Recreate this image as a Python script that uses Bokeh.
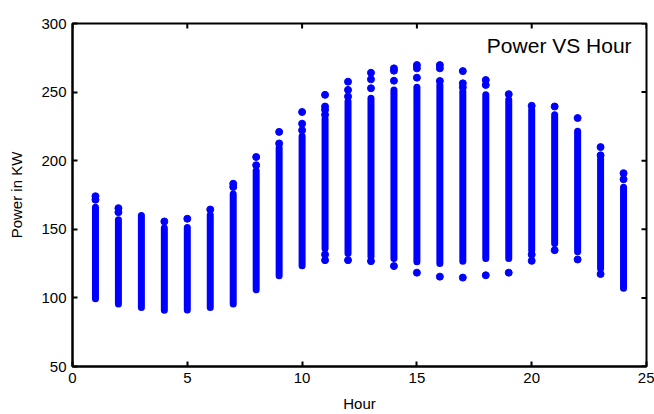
from bokeh.plotting import figure
from bokeh.models import FixedTicker, Label, Range1d, ColumnDataSource
from bokeh.embed import file_html
from bokeh.resources import INLINE

# Hours of day
hours = list(range(1, 25))
# dense band of readings per hour (low/high, kW)
dense_low = [99.4, 95.5, 93.0, 91.0, 91.2, 93.0, 95.5, 106.0, 116.2, 123.5, 136.0, 132.4,
             130.0, 128.8, 126.4, 125.1, 126.8, 128.8, 128.8, 134.8, 139.6, 133.6, 121.5, 107.0]
dense_high = [166.0, 157.0, 160.0, 151.0, 151.4, 160.5, 175.7, 192.6, 209.5, 217.9, 230.4, 243.1,
              245.6, 251.6, 253.5, 255.2, 250.4, 248.0, 244.4, 237.1, 233.5, 221.5, 201.0, 180.6]
# isolated readings outside the dense band
outlier_hours = [1, 1, 2, 2, 4, 5, 6, 7, 7, 8, 8, 9, 9, 10, 10, 10,
                 11, 11, 11, 11, 11, 11, 12, 12, 12, 12, 13, 13, 13, 13,
                 14, 14, 14, 14, 15, 15, 15, 15, 16, 16, 16, 16, 17, 17, 17, 17,
                 18, 18, 18, 19, 19, 20, 20, 20, 21, 21, 22, 22, 23, 23, 23, 24, 24]
outlier_values = [174.1, 171.6, 165.4, 162.5, 155.7, 157.7, 164.4, 183.2, 180.8, 202.7, 196.7,
                  221.0, 212.6, 235.5, 227.0, 222.2,
                  248.0, 239.5, 237.1, 233.5, 131.6, 127.5, 257.6, 251.6, 246.8, 127.5,
                  264.1, 259.3, 252.8, 126.8, 267.3, 265.6, 258.3, 123.2,
                  269.7, 267.3, 260.5, 118.4, 269.7, 267.3, 258.1, 115.5,
                  265.3, 256.4, 253.5, 114.8, 258.8, 255.2, 116.5, 248.5, 118.4,
                  240.0, 131.6, 127.0, 239.5, 134.8, 231.1, 128.0, 209.9, 203.9, 117.4,
                  190.9, 186.5]
x_ticks = [0, 5, 10, 15, 20, 25]
y_ticks = [50, 100, 150, 200, 250, 300]

FONT = "Liberation Sans"
BLUE = "#0000ff"
X0, X1, Y0, Y1 = 0, 25, 50, 300
W, H = 654, 414
ML, MR, MT, MB = 72, 8, 23, 45

p = figure(width=W, height=H, output_backend="svg", toolbar_location=None,
           x_range=Range1d(X0, X1), y_range=Range1d(Y0, Y1),
           min_border_left=ML, min_border_right=MR, min_border_top=MT, min_border_bottom=MB)
p.grid.visible = False
p.outline_line_color = "black"
p.outline_line_width = 2
p.background_fill_color = "white"
p.border_fill_color = "white"

band = ColumnDataSource(dict(x=hours, lo=dense_low, hi=dense_high))
p.segment(x0="x", y0="lo", x1="x", y1="hi", source=band, line_color=BLUE,
          line_width=7, line_cap="round")
pts = ColumnDataSource(dict(x=outlier_hours, y=outlier_values))
p.scatter(x="x", y="y", source=pts, size=7, fill_color=BLUE, line_color=BLUE)

for ax in (p.xaxis[0], p.yaxis[0]):
    ax.axis_line_color = "black"
    ax.axis_line_width = 2
    ax.major_tick_in = 5
    ax.major_tick_out = 0
    ax.major_tick_line_width = 2
    ax.minor_tick_line_color = None
    ax.major_label_text_font = FONT
    ax.major_label_text_font_size = "15px"
    ax.major_label_text_color = "black"
    ax.axis_label_text_font = FONT
    ax.axis_label_text_font_size = "15px"
    ax.axis_label_text_font_style = "normal"
    ax.axis_label_text_color = "black"

p.xaxis.ticker = FixedTicker(ticks=x_ticks)
p.yaxis.ticker = FixedTicker(ticks=y_ticks)
p.xaxis.axis_label = "Hour"
p.yaxis.axis_label = "Power in KW"
p.xaxis.major_label_standoff = 6
p.xaxis.axis_label_standoff = 9
p.yaxis.major_label_standoff = 6
p.yaxis.axis_label_standoff = 13

# inward ticks on the top and right edges of the box (5 px long)
fw = W - ML - MR
fh = H - MT - MB
tx = 5 * (X1 - X0) / fw
ty = 5 * (Y1 - Y0) / fh
p.segment(x0=x_ticks, y0=[Y1] * len(x_ticks), x1=x_ticks, y1=[Y1 - ty] * len(x_ticks),
          line_color="black", line_width=2)
p.segment(x0=[X1] * len(y_ticks), y0=y_ticks, x1=[X1 - tx] * len(y_ticks), y1=y_ticks,
          line_color="black", line_width=2)

p.add_layout(Label(x=24.35, y=284, text="Power VS Hour", text_align="right",
                   text_baseline="middle", text_font=FONT, text_font_size="21px",
                   text_color="black"))

open("out.html", "w").write(file_html(p, INLINE))
